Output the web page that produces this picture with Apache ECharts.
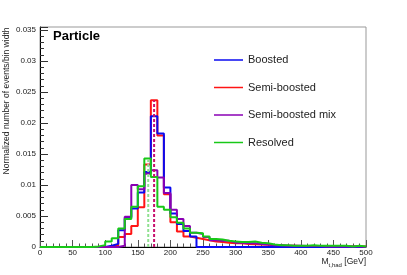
<!DOCTYPE html>
<html>
<head>
<meta charset="utf-8">
<script src="https://cdn.jsdelivr.net/npm/echarts@6/dist/echarts.min.js"></script>
<style>
html,body{margin:0;padding:0;background:#fff;}
#c{width:407px;height:275px;}
</style>
</head>
<body>
<div id="c"></div>
<script>
// 10 GeV bins from 0 to 500 GeV (50 bins)
const binEdges = [0,10,20,30,40,50,60,70,80,90,100,110,120,130,140,150,160,170,180,190,200,210,220,230,240,250,260,270,280,290,300,310,320,330,340,350,360,370,380,390,400,410,420,430,440,450,460,470,480,490,500];
const seriesNames = ['Boosted','Semi-boosted','Semi-boosted mix','Resolved'];
const boosted = [0,0,0,0,0,0,0,0,0,0,
  0.0002,0.0005,0.0027,0.0047,0.0062,0.0088,0.0121,0.0211,0.0183,0.0096,
  0.0054,0.0037,0.0026,0.0017,0,0,0,0,0,0,
  0,0,0,0,0,0,0,0,0,0,
  0,0,0,0,0,0,0,0,0,0];
const semiBoosted = [0,0,0,0,0,0,0,0,0,0,
  0,0.0003,0.0016,0.0021,0.0034,0.0064,0.0133,0.0237,0.0180,0.0085,
  0.0040,0.0025,0.0017,0.0015,0.0013,0.0011,0.0009,0.0008,0.0007,0.0006,
  0.0006,0.0005,0.00045,0.0004,0.00035,0.0003,0.0003,0.0002,0.0002,0.00015,
  0.00015,0.00015,0.0001,0.0001,0.0001,0.0001,0.0001,0.0001,0.0001,0.0001];
const semiBoostedMix = [0,0,0,0,0,0,0,0,0,0,
  0,0,0.0002,0.0049,0.0100,0.0093,0.0118,0.0124,0.0112,0.0087,
  0.0060,0.0045,0.0034,0.0023,0.0021,0.0016,0.0011,0.0010,0.0010,0.0007,
  0.0007,0.0006,0.0006,0.0005,0.0004,0.0003,0.0003,0.0002,0.0002,0.0002,
  0.00015,0.00015,0.00015,0.0001,0.0001,0.0001,0.0001,0.0001,0.0001,0];
const resolved = [0,0,0,0,0,0,0,0,0.0001,0.0003,
  0.0009,0.0014,0.0030,0.0045,0.0065,0.0098,0.0143,0.0113,0.0065,0.0060,
  0.0048,0.0039,0.0030,0.0023,0.0022,0.0017,0.0013,0.0012,0.0010,0.0009,
  0.0008,0.0008,0.0009,0.0007,0.0006,0.0004,0.0003,0.0003,0.0002,0.0002,
  0.0002,0.0003,0.0002,0.0002,0.0002,0.0002,0.0002,0.0001,0.0002,0.0001];
// vertical dashed markers [x, height]
const semiBoostedMarker = [175, 0.0237];
const resolvedMarker = [166, 0.0143];
const yTicks = [0,0.005,0.01,0.015,0.02,0.025,0.03,0.035];

function stepData(vals){
  return binEdges.map((x,i)=>[x, vals[Math.min(i, vals.length-1)]]);
}
const colors = ['#0a0af0','#ff1414','#8a00b4','#18c818'];
const chart = echarts.init(document.getElementById('c'), null, {renderer:'canvas'});
function hist(name, vals, color, z){
  return {name:name, type:'line', step:'end', data:stepData(vals), showSymbol:false, symbol:'none',
    lineStyle:{color:color, width:2}, itemStyle:{color:color}, z:z, animation:false, silent:true};
}
function marker(m, color, dash, z){
  return {type:'line', data:[[m[0],0],[m[0],m[1]]], showSymbol:false, symbol:'none',
    lineStyle:{color:color, width:2, type:dash}, z:z, animation:false, silent:true};
}
chart.setOption({
  animation:false,
  grid:{left:40, right:41, top:27, bottom:28, show:true, borderColor:'#999', borderWidth:1, backgroundColor:'transparent'},
  legend:{
    data:seriesNames, orient:'vertical', left:209, top:48, icon:'rect', itemWidth:29, itemHeight:1.5,
    itemGap:13.5, textStyle:{fontFamily:'Liberation Sans, Arial, sans-serif', fontSize:11, color:'#222', lineHeight:14},
    selectedMode:false
  },
  xAxis:{
    type:'value', min:0, max:500, interval:50,
    axisLine:{show:true, lineStyle:{color:'#000', width:1}},
    axisTick:{show:true, inside:true, length:7, lineStyle:{color:'#555'}},
    minorTick:{show:true, splitNumber:5, length:3.5, lineStyle:{color:'#555'}},
    splitLine:{show:false},
    axisLabel:{fontFamily:'Liberation Sans, Arial, sans-serif', fontSize:8, color:'#222', margin:2}
  },
  yAxis:{
    type:'value', min:0, max:0.0355, interval:0.005,
    axisLine:{show:true, lineStyle:{color:'#000', width:1}},
    axisTick:{show:true, inside:true, length:8, lineStyle:{color:'#333'}},
    minorTick:{show:true, splitNumber:5, length:4, lineStyle:{color:'#333'}},
    splitLine:{show:false},
    axisLabel:{fontFamily:'Liberation Sans, Arial, sans-serif', fontSize:8, color:'#222', margin:4, showMaxLabel:false,
      formatter:function(v){ for (const t of yTicks){ if (Math.abs(v-t)<1e-9) return String(t); } return ''; }}
  },
  series:[
    hist(seriesNames[1], semiBoosted, colors[1], 2),
    hist(seriesNames[0], boosted, colors[0], 3),
    hist(seriesNames[2], semiBoostedMix, colors[2], 4),
    hist(seriesNames[3], resolved, colors[3], 5),
    marker(semiBoostedMarker, '#c8106e', [3,2], 6),
    marker(resolvedMarker, '#90e090', [3,2], 6)
  ],
  graphic:[
    {type:'text', left:53, top:30, style:{text:'Particle', fontFamily:'Liberation Sans, Arial, sans-serif', fontWeight:'bold', fontSize:13, fill:'#000'}},
    {type:'text', x:7, y:101, rotation:Math.PI/2, style:{text:'Normalized number of events/bin width', fontFamily:'Liberation Sans, Arial, sans-serif', fontSize:8.5, fill:'#222', align:'center', verticalAlign:'middle'}},
    {type:'text', x:366, y:262, style:{text:'{a|M}{b|t,had}{a| [GeV]}', align:'right', verticalAlign:'middle',
      rich:{a:{fontFamily:'Liberation Sans, Arial, sans-serif', fontSize:8.5, fill:'#222', color:'#222', lineHeight:12, verticalAlign:'middle'},
            b:{fontFamily:'Liberation Sans, Arial, sans-serif', fontSize:6, fill:'#222', color:'#222', lineHeight:12, verticalAlign:'bottom'}}}}
  ]
});
</script>
</body>
</html>
